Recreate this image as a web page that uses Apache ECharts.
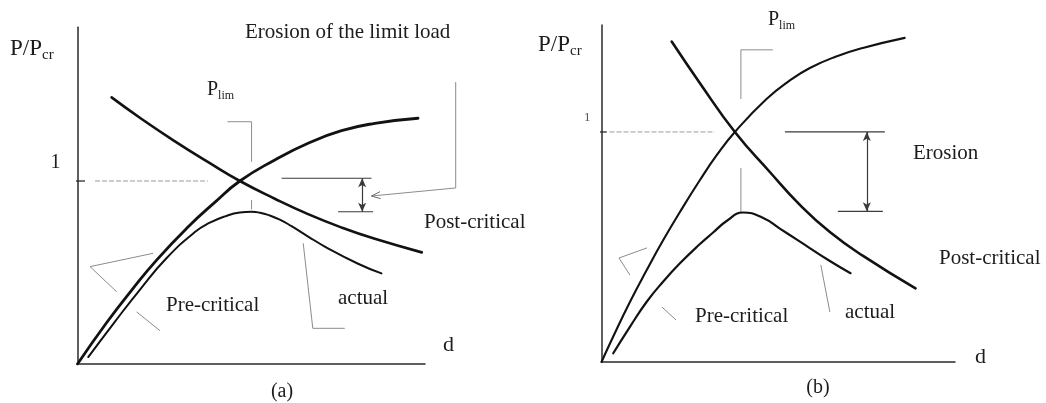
<!DOCTYPE html>
<html>
<head>
<meta charset="utf-8">
<script src="https://cdn.jsdelivr.net/npm/echarts@6/dist/echarts.min.js"></script>
<style>
  html, body { margin: 0; padding: 0; background: #fff; }
  #chart { width: 1046px; height: 403px; }
</style>
</head>
<body>
<div id="chart"></div>
<script>
// Load P/Pcr against displacement d; d is scaled so that the limit point sits at d = 1.

// ---- panel (a): erosion of the limit load ----
const strengthA = [[0, 0], [0.180, 0.227], [0.334, 0.404], [0.487, 0.568], [0.682, 0.750],
  [0.840, 0.879], [1.0, 1.0], [1.215, 1.115], [1.420, 1.206], [1.626, 1.275],
  [1.831, 1.315], [2.097, 1.343]];
const bucklingA = [[0.210, 1.457], [0.395, 1.339], [0.600, 1.217], [0.805, 1.103], [1.0, 1.0],
  [1.215, 0.903], [1.420, 0.819], [1.626, 0.746], [1.831, 0.684], [2.120, 0.610]];
const actualA = [[0.066, 0.038], [0.231, 0.232], [0.385, 0.407], [0.549, 0.579], [0.723, 0.721],
  [0.815, 0.772], [0.908, 0.807], [1.0, 0.828], [1.072, 0.832], [1.123, 0.827],
  [1.174, 0.815], [1.246, 0.789], [1.318, 0.753], [1.418, 0.698], [1.523, 0.642],
  [1.728, 0.548], [1.872, 0.495]];

// ---- panel (b): erosion ----
const strengthB = [[0, 0], [0.088, 0.111], [0.213, 0.261], [0.339, 0.400], [0.463, 0.530],
  [0.588, 0.652], [0.738, 0.791], [0.865, 0.900], [1.0, 1.0], [1.237, 1.143],
  [1.412, 1.224], [1.562, 1.278], [1.749, 1.326], [1.959, 1.365], [2.273, 1.409]];
const bucklingB = [[0.526, 1.393], [0.738, 1.212], [1.0, 1.0], [1.262, 0.826], [1.487, 0.683],
  [1.712, 0.565], [1.961, 0.461], [2.354, 0.320]];
const actualB = [[0.088, 0.038], [0.213, 0.153], [0.339, 0.262], [0.463, 0.350], [0.588, 0.429],
  [0.738, 0.513], [0.837, 0.563], [0.938, 0.613], [1.062, 0.650],
  [1.212, 0.626], [1.337, 0.580], [1.462, 0.533], [1.712, 0.439],
  [1.867, 0.386]];

// tick label on the load axis
const yTickValues = [1];

// limit-load guides (data units)
const unitDashA = [[0.108, 1], [0.803, 1]];
const unitTickA = [[-0.040, 1], [0.046, 1]];
const plimBracketA = [[0.924, 1.324], [1.072, 1.324], [1.072, 1.105]];
const plimStemA = [[1.072, 0.896], [1.072, 0.845]];
const erosionTopA = [[1.257, 1.015], [1.810, 1.015]];
const erosionBottomA = [[1.605, 0.832], [1.820, 0.832]];
const erosionArrowA = [[1.753, 1.015], [1.753, 0.832]];
const erosionLeaderA = [[2.329, 1.541], [2.329, 0.962], [1.810, 0.918]];
const preLeaderA1 = [[0.466, 0.605], [0.077, 0.532], [0.241, 0.395]];
const preLeaderA2 = [[0.364, 0.285], [0.508, 0.182]];
const actualLeaderA = [[1.390, 0.660], [1.449, 0.195], [1.646, 0.195]];

const unitDashB = [[0.060, 1], [0.850, 1]];
const unitTickB = [[-0.055, 1], [0.040, 1]];
const plimBracketB = [[1.285, 1.357], [1.045, 1.357], [1.045, 1.143]];
const plimStemB = [[1.045, 0.843], [1.045, 0.648]];
const erosionTopB = [[1.375, 1.0], [2.124, 1.0]];
const erosionBottomB = [[1.772, 0.655], [2.109, 0.655]];
const erosionArrowB = [[1.989, 1.0], [1.989, 0.655]];
const preLeaderB1 = [[0.341, 0.496], [0.131, 0.452], [0.213, 0.378]];
const preLeaderB2 = [[0.453, 0.239], [0.558, 0.183]];
const actualLeaderB = [[1.644, 0.422], [1.712, 0.217]];

const FONT = '"Liberation Serif", "Times New Roman", serif';
const INK = '#1c1c1c';
const GUIDE = '#8c8c8c';

function curve(data, g, width) {
  return {
    type: 'line', xAxisIndex: g, yAxisIndex: g, data: data,
    smooth: 0.5, symbol: 'none', silent: true, z: 4,
    lineStyle: { color: '#121212', width: width, cap: 'round' }
  };
}
function guide(data, g, style) {
  return {
    type: 'line', xAxisIndex: g, yAxisIndex: g, data: data,
    symbol: 'none', clip: false, silent: true, z: 3,
    lineStyle: Object.assign({ color: GUIDE, width: 1 }, style || {})
  };
}
function arrow(seg, g, ends, style) {
  return {
    type: 'line', xAxisIndex: g, yAxisIndex: g, data: [], clip: false, silent: true, z: 3,
    markLine: {
      silent: true, animation: false,
      symbol: ends, symbolSize: [6, 9],
      label: { show: false },
      lineStyle: Object.assign({ color: '#3a3a3a', width: 1.2, type: 'solid' }, style || {}),
      emphasis: { disabled: true },
      data: [[{ coord: seg[0] }, { coord: seg[1] }]]
    }
  };
}

function xAxisFor(g, max) {
  return {
    type: 'value', gridIndex: g, min: 0, max: max,
    axisLine: { show: true, lineStyle: { color: '#2a2a2a', width: 1.5 } },
    axisTick: { show: false }, axisLabel: { show: false }, splitLine: { show: false }
  };
}
function yAxisFor(g, max, fontSize, margin, lift) {
  return {
    type: 'value', gridIndex: g, min: 0, max: max,
    axisLine: { show: true, lineStyle: { color: '#2a2a2a', width: 1.5 } },
    axisTick: { show: false }, splitLine: { show: false },
    axisLabel: {
      show: true, customValues: yTickValues, margin: margin,
      fontFamily: FONT, fontSize: fontSize, color: g ? '#555' : INK,
      verticalAlign: 'bottom', padding: [0, 0, lift, 0]
    }
  };
}

function label(x, y, text, size, extra) {
  return {
    type: 'text', x: x, y: y, silent: true, z: 10,
    style: Object.assign({
      text: text, fill: INK, font: size + 'px ' + FONT,
      textAlign: 'left', textVerticalAlign: 'middle', align: 'left', verticalAlign: 'middle'
    }, extra || {})
  };
}
function subLabel(x, y, main, sub, size, subSize) {
  return {
    type: 'text', x: x, y: y, silent: true, z: 10,
    style: {
      text: '{m|' + main + '}{s|' + sub + '}', fill: INK,
      textAlign: 'left', textVerticalAlign: 'middle', align: 'left', verticalAlign: 'middle',
      rich: {
        m: { fontFamily: FONT, fontSize: size, lineHeight: size + 4, color: INK },
        s: { fontFamily: FONT, fontSize: subSize, lineHeight: subSize, verticalAlign: 'bottom', color: INK }
      }
    }
  };
}

const labels = [
  // panel (a)
  subLabel(10, 49, 'P/P', 'cr', 23, 15),
  label(245, 32, 'Erosion of the limit load', 21),
  subLabel(207, 90, 'P', 'lim', 20, 12),
  label(424, 222, 'Post-critical', 21),
  label(166, 305, 'Pre-critical', 21),
  label(338, 298, 'actual', 21),
  label(443, 345, 'd', 22),
  label(282, 392, '(a)', 20, { textAlign: 'center', align: 'center' }),
  // panel (b)
  subLabel(538, 45, 'P/P', 'cr', 23, 15),
  subLabel(768, 20, 'P', 'lim', 20, 12),
  label(913, 153, 'Erosion', 21),
  label(939, 258, 'Post-critical', 21),
  label(695, 316, 'Pre-critical', 21),
  label(845, 312, 'actual', 21),
  label(975, 357, 'd', 22),
  label(818, 388, '(b)', 20, { textAlign: 'center', align: 'center' })
];

const chart = echarts.init(document.getElementById('chart'), null, { renderer: 'canvas' });
chart.setOption({
  animation: false,
  backgroundColor: '#ffffff',
  grid: [
    { left: 77.5, top: 27.3, width: 347.5, height: 336.7 },
    { left: 601.5, top: 25, width: 353.5, height: 337 }
  ],
  xAxis: [xAxisFor(0, 2.14), xAxisFor(1, 2.65)],
  yAxis: [yAxisFor(0, 1.84, 20, 17, 8), yAxisFor(1, 1.465, 13, 11, 8)],
  series: [
    // panel (a)
    curve(strengthA, 0, 2.8),
    curve(bucklingA, 0, 2.6),
    curve(actualA, 0, 2.0),
    guide(unitDashA, 0, { color: '#9a9a9a', type: [5, 2] }),
    guide(unitTickA, 0, { color: '#2a2a2a', width: 1.3 }),
    guide(plimBracketA, 0),
    guide(plimStemA, 0),
    guide(erosionTopA, 0, { color: '#3a3a3a', width: 1.2 }),
    guide(erosionBottomA, 0, { color: '#3a3a3a', width: 1.2 }),
    arrow(erosionArrowA, 0, ['arrow', 'arrow']),
    guide(preLeaderA1, 0),
    guide(preLeaderA2, 0),
    guide(actualLeaderA, 0),
    // panel (b)
    curve(strengthB, 1, 2.1),
    curve(bucklingB, 1, 2.6),
    curve(actualB, 1, 2.2),
    guide(unitDashB, 1, { color: '#9a9a9a', type: [5, 2] }),
    guide(unitTickB, 1, { color: '#2a2a2a', width: 1.3 }),
    guide(plimBracketB, 1),
    guide(plimStemB, 1),
    guide(erosionTopB, 1, { color: '#3a3a3a', width: 1.2 }),
    guide(erosionBottomB, 1, { color: '#3a3a3a', width: 1.2 }),
    arrow(erosionArrowB, 1, ['arrow', 'arrow']),
    guide(preLeaderB1, 1),
    guide(preLeaderB2, 1),
    guide(actualLeaderB, 1)
  ],
  graphic: labels
});

// The leader from the title runs past the end of the d axis, so it is placed
// through the grid's own scales and drawn as a graphic polyline with an open arrowhead.
const leaderPts = erosionLeaderA.map(function (p) {
  return chart.convertToPixel({ gridIndex: 0 }, p);
});
const tip = leaderPts[leaderPts.length - 1];
const prev = leaderPts[leaderPts.length - 2];
const dx = tip[0] - prev[0], dy = tip[1] - prev[1];
const len = Math.sqrt(dx * dx + dy * dy);
const ux = dx / len, uy = dy / len;
const head = [
  [tip[0] - ux * 9 - uy * 3.5, tip[1] - uy * 9 + ux * 3.5],
  tip,
  [tip[0] - ux * 9 + uy * 3.5, tip[1] - uy * 9 - ux * 3.5]
];
chart.setOption({
  graphic: labels.concat([
    { type: 'polyline', silent: true, z: 3, shape: { points: leaderPts },
      style: { stroke: GUIDE, lineWidth: 1, fill: null } },
    { type: 'polyline', silent: true, z: 3, shape: { points: head },
      style: { stroke: '#6a6a6a', lineWidth: 1, fill: null } }
  ])
});
</script>
</body>
</html>
